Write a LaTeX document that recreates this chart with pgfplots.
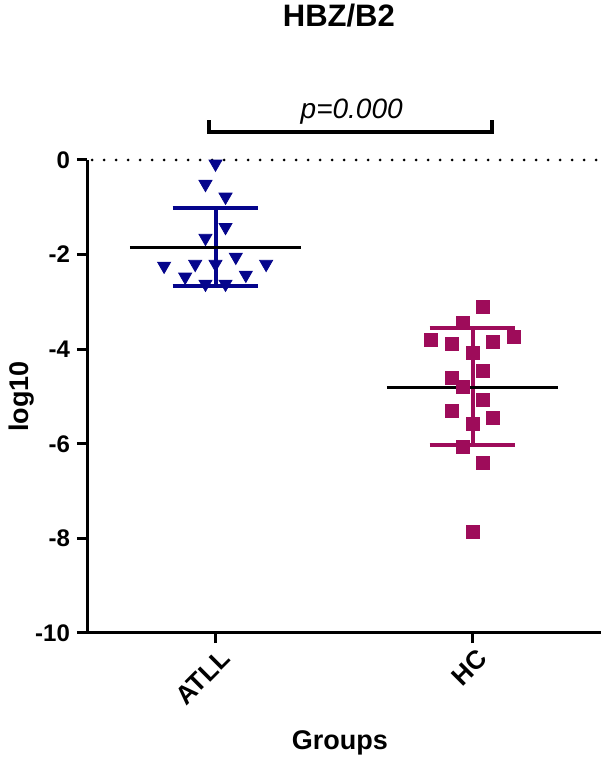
\documentclass[border=0pt]{standalone}
\usepackage{pgfplots}
\pgfplotsset{compat=1.18}
\usepackage{fontspec}
\setmainfont{Liberation Sans}
\definecolor{atll}{RGB}{5,5,140}
\definecolor{hc}{RGB}{158,12,90}
\begin{document}
\begin{tikzpicture}
\useasboundingbox (0,0) rectangle (300.5pt,380pt);
\begin{axis}[
  at={(43.5pt,63.5pt)}, anchor=south west,
  scale only axis, width=257pt, height=236.5pt,
  xmin=0.5, xmax=2.5, ymin=-10, ymax=0,
  axis lines=left, axis line style={-, line width=1.5pt},
  clip=false,
  xtick={1,2}, xticklabels={ATLL,HC},
  ytick={-10,-8,-6,-4,-2,0},
  tick align=outside, major tick length=5pt,
  every tick/.style={black, line width=1.5pt},
  /pgf/number format/assume math mode=true,
  yticklabel style={font=\fontsize{12}{14}\selectfont\bfseries},
  xticklabel style={font=\fontsize{13}{15}\selectfont\bfseries, rotate=45, anchor=east, xshift=3pt, yshift=-7.5pt},
  xlabel={Groups}, ylabel={log10},
  label style={font=\fontsize{13.5}{16}\selectfont\bfseries},
  xlabel style={at={(axis description cs:0.492,-0.232)}, anchor=center},
  ylabel style={at={(axis description cs:-0.127,0.5)}, anchor=center},
  title={HBZ/B2},
  title style={at={(axis description cs:0.49,1)}, anchor=center, yshift=66pt, font=\fontsize{15.5}{18}\selectfont\bfseries},
]
% dotted zero line
\addplot[black, line width=1.5pt, line cap=round, dash pattern=on 0pt off 6pt] coordinates {(0.52,0) (2.5,0)};
% SD bars
\addplot[atll, line width=2pt] coordinates {(1,-1.01) (1,-2.66)};
\addplot[atll, line width=2pt] coordinates {(0.833,-1.01) (1.167,-1.01)};
\addplot[atll, line width=2pt] coordinates {(0.833,-2.66) (1.167,-2.66)};
\addplot[hc, line width=2pt] coordinates {(2,-3.55) (2,-6.03)};
\addplot[hc, line width=2pt] coordinates {(1.833,-3.55) (2.167,-3.55)};
\addplot[hc, line width=2pt] coordinates {(1.833,-6.03) (2.167,-6.03)};
% points
\addplot[only marks, mark=triangle*, mark size=3.75pt, mark options={rotate=180, fill=atll, draw=atll}] coordinates {
(1.0,-0.08) (0.961,-0.51) (1.039,-0.78) (1.039,-1.42) (0.961,-1.65)
(0.800,-2.24) (0.921,-2.20) (1.0,-2.20) (1.079,-2.05) (1.197,-2.20)
(0.882,-2.47) (1.118,-2.43) (0.961,-2.62) (1.039,-2.62)};
\addplot[only marks, mark=square*, mark size=3.25pt, mark options={fill=hc, draw=hc}] coordinates {
(2.039,-3.10) (1.961,-3.45) (1.839,-3.80) (1.921,-3.89) (2.079,-3.85) (2.161,-3.74)
(2.0,-4.08) (2.039,-4.46) (1.921,-4.61) (1.961,-4.80) (2.039,-5.07) (1.921,-5.30)
(2.079,-5.45) (2.0,-5.58) (1.961,-6.07) (2.039,-6.41) (2.0,-7.87)};
% means
\addplot[black, line width=1.5pt] coordinates {(0.667,-1.84) (1.333,-1.84)};
\addplot[black, line width=1.5pt] coordinates {(1.667,-4.80) (2.333,-4.80)};
% significance bracket
\draw[black, line width=2pt] (axis cs:0.976,0.84) -- (axis cs:0.976,0.6) -- (axis cs:2.075,0.6) -- (axis cs:2.075,0.84);
\node[font=\fontsize{14}{16}\selectfont\itshape] at (axis cs:1.53,1.02) {p=0.000};
\end{axis}
\end{tikzpicture}
\end{document}
